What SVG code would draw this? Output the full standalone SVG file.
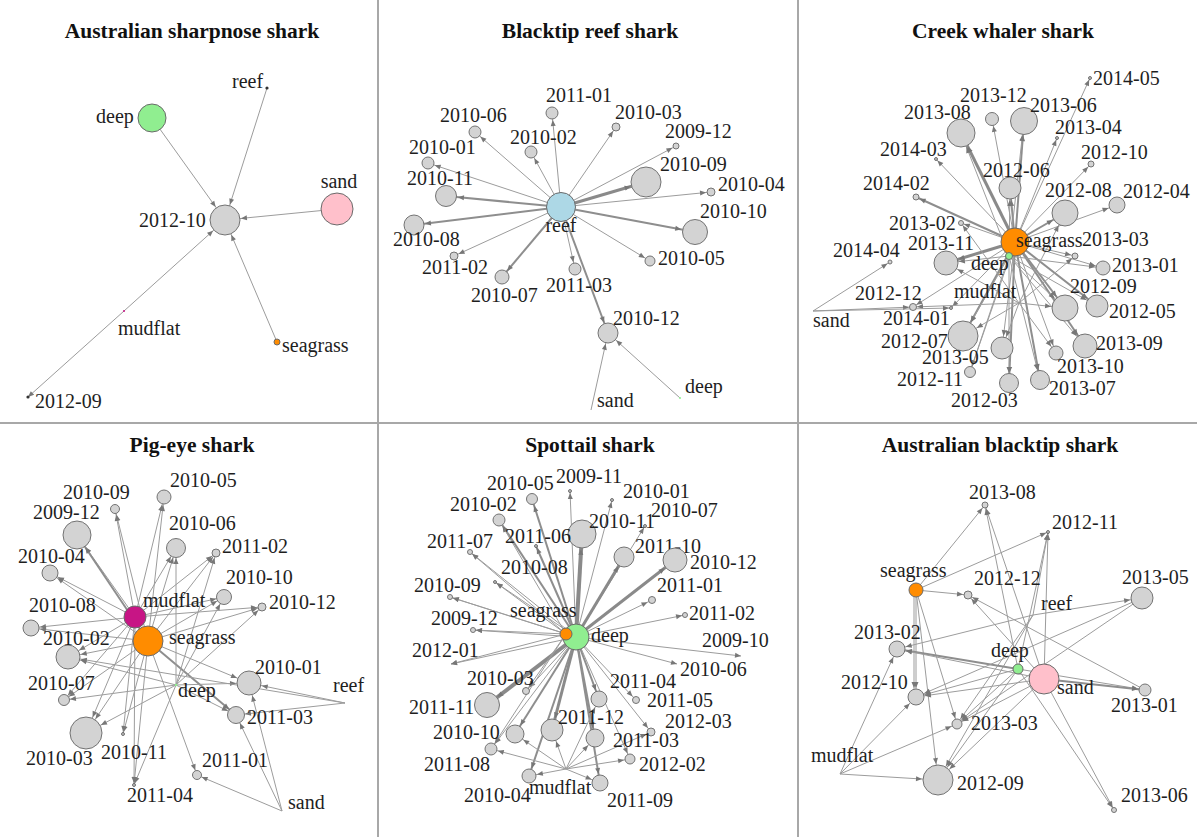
<svg xmlns="http://www.w3.org/2000/svg" width="1197" height="837" viewBox="0 0 1197 837">
<style>
.t{font-family:"Liberation Serif","Times New Roman",serif;font-size:20px;fill:#1e1e1e}
.h{font-family:"Liberation Serif","Times New Roman",serif;font-size:21.5px;font-weight:bold;fill:#111;text-anchor:middle}
.n{fill:#d3d3d3;stroke:#737373;stroke-width:1}
.s{fill:#bdbdbd;stroke:#555;stroke-width:0.8}
.dp{fill:#90ee90;stroke:#6a6a6a;stroke-width:1}
.sd{fill:#ffc0cb;stroke:#6a6a6a;stroke-width:1}
.rf{fill:#add8e6;stroke:#6a6a6a;stroke-width:1}
.sg{fill:#ff8c00;stroke:#6a6a6a;stroke-width:1}
.mf{fill:#c71585;stroke:#6a6a6a;stroke-width:1}
.e line{stroke:#9c9c9c;stroke-width:1;fill:none}
.e line.b{stroke-width:2;stroke:#8e8e8e}
.e line.c{stroke-width:3;stroke:#8a8a8a}
.e line.d{stroke-width:4;stroke:#8a8a8a}
.dv{stroke:#a8a8a8;stroke-width:2}
</style>
<defs>
<marker id="a0" markerUnits="userSpaceOnUse" orient="auto" refX="0" refY="0" overflow="visible"><path d="M0,0L-6,-2.5L-6,2.5Z" fill="#777"/></marker>
<marker id="a2" markerUnits="userSpaceOnUse" orient="auto" refX="2" refY="0" overflow="visible"><path d="M0,0L-6,-2.5L-6,2.5Z" fill="#777"/></marker>
<marker id="a3" markerUnits="userSpaceOnUse" orient="auto" refX="3" refY="0" overflow="visible"><path d="M0,0L-6,-2.5L-6,2.5Z" fill="#777"/></marker>
<marker id="a4" markerUnits="userSpaceOnUse" orient="auto" refX="4" refY="0" overflow="visible"><path d="M0,0L-6,-2.5L-6,2.5Z" fill="#777"/></marker>
<marker id="a5" markerUnits="userSpaceOnUse" orient="auto" refX="5" refY="0" overflow="visible"><path d="M0,0L-6,-2.5L-6,2.5Z" fill="#777"/></marker>
<marker id="a6" markerUnits="userSpaceOnUse" orient="auto" refX="6" refY="0" overflow="visible"><path d="M0,0L-6,-2.5L-6,2.5Z" fill="#777"/></marker>
<marker id="a7" markerUnits="userSpaceOnUse" orient="auto" refX="7" refY="0" overflow="visible"><path d="M0,0L-6,-2.5L-6,2.5Z" fill="#777"/></marker>
<marker id="a8" markerUnits="userSpaceOnUse" orient="auto" refX="8" refY="0" overflow="visible"><path d="M0,0L-6,-2.5L-6,2.5Z" fill="#777"/></marker>
<marker id="a9" markerUnits="userSpaceOnUse" orient="auto" refX="9" refY="0" overflow="visible"><path d="M0,0L-6,-2.5L-6,2.5Z" fill="#777"/></marker>
<marker id="a10" markerUnits="userSpaceOnUse" orient="auto" refX="10" refY="0" overflow="visible"><path d="M0,0L-6,-2.5L-6,2.5Z" fill="#777"/></marker>
<marker id="a11" markerUnits="userSpaceOnUse" orient="auto" refX="11" refY="0" overflow="visible"><path d="M0,0L-6,-2.5L-6,2.5Z" fill="#777"/></marker>
<marker id="a12" markerUnits="userSpaceOnUse" orient="auto" refX="12" refY="0" overflow="visible"><path d="M0,0L-6,-2.5L-6,2.5Z" fill="#777"/></marker>
<marker id="a13" markerUnits="userSpaceOnUse" orient="auto" refX="13" refY="0" overflow="visible"><path d="M0,0L-6,-2.5L-6,2.5Z" fill="#777"/></marker>
<marker id="a14" markerUnits="userSpaceOnUse" orient="auto" refX="14" refY="0" overflow="visible"><path d="M0,0L-6,-2.5L-6,2.5Z" fill="#777"/></marker>
<marker id="a15" markerUnits="userSpaceOnUse" orient="auto" refX="15" refY="0" overflow="visible"><path d="M0,0L-6,-2.5L-6,2.5Z" fill="#777"/></marker>
<marker id="a16" markerUnits="userSpaceOnUse" orient="auto" refX="16" refY="0" overflow="visible"><path d="M0,0L-6,-2.5L-6,2.5Z" fill="#777"/></marker>
<marker id="a17" markerUnits="userSpaceOnUse" orient="auto" refX="17" refY="0" overflow="visible"><path d="M0,0L-6,-2.5L-6,2.5Z" fill="#777"/></marker>
</defs>
<rect width="1197" height="837" fill="#fff"/>
<g id="dividers">
<line class="dv" x1="378" y1="0" x2="378" y2="837"/>
<line class="dv" x1="798" y1="0" x2="798" y2="837"/>
<line class="dv" x1="0" y1="423" x2="1197" y2="423"/>
</g>
<g id="titles">
<text class="h" x="192" y="38">Australian sharpnose shark</text>
<text class="h" x="590" y="38">Blacktip reef shark</text>
<text class="h" x="1003" y="38">Creek whaler shark</text>
<text class="h" x="192" y="452">Pig-eye shark</text>
<text class="h" x="590" y="452">Spottail shark</text>
<text class="h" x="1000" y="452">Australian blacktip shark</text>
</g>

<!-- Panel 1 edges -->
<g id="edges-p1" class="e">
<line x1="152" y1="118" x2="225" y2="220" marker-end="url(#a16)"/>
<line x1="267" y1="88" x2="225" y2="220" marker-end="url(#a16)"/>
<line x1="337" y1="209" x2="225" y2="220" marker-end="url(#a16)"/>
<line x1="277" y1="342" x2="225" y2="220" marker-end="url(#a16)"/>
<line x1="124" y1="311" x2="225" y2="220" marker-end="url(#a16)"/>
<line x1="124" y1="311" x2="28" y2="397" marker-end="url(#a0)"/>
</g>
<g id="p1-deep"><circle class="dp" cx="152" cy="118" r="14"/><text class="t" x="96" y="123">deep</text></g>
<g id="p1-reef"><circle cx="267" cy="88" r="1.6" fill="#333"/><text class="t" x="232" y="88">reef</text></g>
<g id="p1-sand"><circle class="sd" cx="337" cy="209" r="16"/><text class="t" x="339" y="188" text-anchor="middle">sand</text></g>
<g id="p1-2012-10"><circle class="n" cx="225" cy="220" r="15"/><text class="t" x="139" y="227">2012-10</text></g>
<g id="p1-seagrass"><circle class="sg" cx="277" cy="342" r="3" stroke-width="0.6"/><text class="t" x="282" y="352">seagrass</text></g>
<g id="p1-mudflat"><circle cx="124" cy="311" r="1" fill="#c71585"/><text class="t" x="118" y="335">mudflat</text></g>
<g id="p1-2012-09"><circle cx="28" cy="397" r="1.6" fill="#333"/><text class="t" x="35" y="408">2012-09</text></g>

<!-- Panel 2 edges -->
<g id="edges-p2" class="e">
<line x1="561" y1="207" x2="552" y2="113" marker-end="url(#a7)"/>
<line x1="561" y1="207" x2="616" y2="127" marker-end="url(#a5)"/>
<line x1="561" y1="207" x2="475" y2="132" marker-end="url(#a7)"/>
<line x1="561" y1="207" x2="531" y2="152" marker-end="url(#a7)"/>
<line x1="561" y1="207" x2="676" y2="146" marker-end="url(#a4)"/>
<line x1="561" y1="207" x2="428" y2="163" marker-end="url(#a7)"/>
<line class="c" x1="561" y1="207" x2="646" y2="182" marker-end="url(#a16)"/>
<line class="b" x1="561" y1="207" x2="446" y2="196" marker-end="url(#a12)"/>
<line x1="561" y1="207" x2="711" y2="192" marker-end="url(#a5)"/>
<line class="b" x1="561" y1="207" x2="414" y2="225" marker-end="url(#a11)"/>
<line class="b" x1="561" y1="207" x2="695" y2="232" marker-end="url(#a14)"/>
<line x1="561" y1="207" x2="454" y2="256" marker-end="url(#a5)"/>
<line x1="561" y1="207" x2="650" y2="261" marker-end="url(#a6)"/>
<line x1="561" y1="207" x2="575" y2="269" marker-end="url(#a7)"/>
<line class="b" x1="561" y1="207" x2="502" y2="277" marker-end="url(#a8)"/>
<line class="b" x1="561" y1="207" x2="608" y2="333" marker-end="url(#a11)"/>
<line x1="591" y1="410" x2="608" y2="333" marker-end="url(#a11)"/>
<line x1="680" y1="398" x2="608" y2="333" marker-end="url(#a11)"/>
</g>
<g id="p2-reef"><circle class="rf" cx="561" cy="207" r="14.5"/><text class="t" x="561" y="232" text-anchor="middle">reef</text></g>
<g id="p2-2011-01"><circle class="n" cx="552" cy="113" r="6"/><text class="t" x="546" y="102">2011-01</text></g>
<g id="p2-2010-03"><circle class="n" cx="616" cy="127" r="4"/><text class="t" x="615" y="119">2010-03</text></g>
<g id="p2-2010-06"><circle class="n" cx="475" cy="132" r="6"/><text class="t" x="440" y="122">2010-06</text></g>
<g id="p2-2010-02"><circle class="n" cx="531" cy="152" r="6"/><text class="t" x="510" y="144">2010-02</text></g>
<g id="p2-2009-12"><circle class="n" cx="676" cy="146" r="3"/><text class="t" x="665" y="138">2009-12</text></g>
<g id="p2-2010-01"><circle class="n" cx="428" cy="163" r="6"/><text class="t" x="409" y="154">2010-01</text></g>
<g id="p2-2010-09"><circle class="n" cx="646" cy="182" r="15"/><text class="t" x="660" y="171">2010-09</text></g>
<g id="p2-2010-11"><circle class="n" cx="446" cy="196" r="10.5"/><text class="t" x="407" y="185">2010-11</text></g>
<g id="p2-2010-04"><circle class="n" cx="711" cy="192" r="4"/><text class="t" x="718" y="191">2010-04</text></g>
<g id="p2-2010-08"><circle class="n" cx="414" cy="225" r="10"/><text class="t" x="393" y="246">2010-08</text></g>
<g id="p2-2010-10"><circle class="n" cx="695" cy="232" r="12.5"/><text class="t" x="700" y="218">2010-10</text></g>
<g id="p2-2011-02"><circle class="n" cx="454" cy="256" r="4"/><text class="t" x="422" y="274">2011-02</text></g>
<g id="p2-2010-05"><circle class="n" cx="650" cy="261" r="5"/><text class="t" x="658" y="265">2010-05</text></g>
<g id="p2-2011-03"><circle class="n" cx="575" cy="269" r="6"/><text class="t" x="546" y="292">2011-03</text></g>
<g id="p2-2010-07"><circle class="n" cx="502" cy="277" r="7"/><text class="t" x="471" y="302">2010-07</text></g>
<g id="p2-2010-12"><circle class="n" cx="608" cy="333" r="10"/><text class="t" x="613" y="325">2010-12</text></g>
<g id="p2-sand"><text class="t" x="597" y="407">sand</text></g>
<g id="p2-deep"><circle cx="680" cy="398" r="1" fill="#90ee90"/><text class="t" x="685" y="393">deep</text></g>

<!-- Panel 3 edges -->
<g id="edges-p3" class="e">
<line x1="1015" y1="242" x2="1090" y2="78" marker-end="url(#a2)"/>
<line x1="1015" y1="242" x2="992" y2="119" marker-end="url(#a7)"/>
<line class="b" x1="1015" y1="242" x2="1024" y2="121" marker-end="url(#a14)"/>
<line class="c" x1="1015" y1="242" x2="961" y2="133" marker-end="url(#a15)"/>
<line x1="1015" y1="242" x2="1057" y2="138" marker-end="url(#a2)"/>
<line x1="1015" y1="242" x2="936" y2="159" marker-end="url(#a2)"/>
<line x1="1015" y1="242" x2="1091" y2="164" marker-end="url(#a4)"/>
<line class="b" x1="1015" y1="242" x2="1010" y2="188" marker-end="url(#a12)"/>
<line class="b" x1="1015" y1="242" x2="916" y2="197" marker-end="url(#a4)"/>
<line class="b" x1="1015" y1="242" x2="1065" y2="213" marker-end="url(#a14)"/>
<line x1="1015" y1="242" x2="1117" y2="205" marker-end="url(#a9)"/>
<line x1="1015" y1="242" x2="961" y2="223" marker-end="url(#a3)"/>
<line x1="1015" y1="242" x2="1075" y2="256" marker-end="url(#a4)"/>
<line class="c" x1="1015" y1="242" x2="946" y2="263" marker-end="url(#a13)"/>
<line x1="1015" y1="242" x2="1103" y2="268" marker-end="url(#a8)"/>
<line class="b" x1="1015" y1="242" x2="1065" y2="308" marker-end="url(#a14)"/>
<line class="b" x1="1015" y1="242" x2="1097" y2="306" marker-end="url(#a12)"/>
<line class="b" x1="1015" y1="242" x2="963" y2="336" marker-end="url(#a16)"/>
<line x1="1015" y1="242" x2="1002" y2="348" marker-end="url(#a12)"/>
<line class="b" x1="1015" y1="242" x2="1085" y2="346" marker-end="url(#a13)"/>
<line x1="1015" y1="242" x2="1056" y2="353" marker-end="url(#a8)"/>
<line x1="1015" y1="242" x2="970" y2="372" marker-end="url(#a6)"/>
<line class="b" x1="1015" y1="242" x2="1009" y2="383" marker-end="url(#a10)"/>
<line class="b" x1="1015" y1="242" x2="1040" y2="380" marker-end="url(#a10)"/>
<line x1="1015" y1="242" x2="951" y2="308" marker-end="url(#a2)"/>
<line x1="1015" y1="242" x2="913" y2="307" marker-end="url(#a4)"/>
<line x1="1009" y1="256" x2="961" y2="133" marker-end="url(#a15)"/>
<line x1="1009" y1="256" x2="1010" y2="188" marker-end="url(#a12)"/>
<line x1="1009" y1="256" x2="946" y2="263" marker-end="url(#a13)"/>
<line x1="1009" y1="256" x2="1065" y2="308" marker-end="url(#a14)"/>
<line x1="1009" y1="256" x2="1085" y2="346" marker-end="url(#a13)"/>
<line x1="1009" y1="256" x2="1009" y2="383" marker-end="url(#a10)"/>
<line x1="1009" y1="256" x2="1040" y2="380" marker-end="url(#a10)"/>
<line x1="1009" y1="256" x2="963" y2="336" marker-end="url(#a16)"/>
<line x1="1009" y1="256" x2="1097" y2="306" marker-end="url(#a12)"/>
<line x1="1009" y1="256" x2="1024" y2="121" marker-end="url(#a14)"/>
<line x1="1009" y1="256" x2="1103" y2="268" marker-end="url(#a8)"/>
<line x1="1009" y1="256" x2="970" y2="372" marker-end="url(#a6)"/>
<line x1="1019" y1="303" x2="946" y2="263" marker-end="url(#a13)"/>
<line x1="1019" y1="303" x2="1065" y2="308" marker-end="url(#a14)"/>
<line x1="1019" y1="303" x2="913" y2="307" marker-end="url(#a4)"/>
<line x1="1019" y1="303" x2="961" y2="223" marker-end="url(#a3)"/>
<line x1="1019" y1="303" x2="963" y2="336" marker-end="url(#a16)"/>
<line x1="1019" y1="303" x2="1002" y2="348" marker-end="url(#a12)"/>
<line x1="1019" y1="303" x2="1065" y2="213" marker-end="url(#a14)"/>
<line x1="1019" y1="303" x2="1075" y2="256" marker-end="url(#a4)"/>
<line x1="1019" y1="303" x2="1056" y2="353" marker-end="url(#a8)"/>
<line x1="813" y1="311" x2="890" y2="262" marker-end="url(#a3)"/>
<line x1="813" y1="311" x2="913" y2="307" marker-end="url(#a4)"/>
<line x1="813" y1="311" x2="951" y2="308" marker-end="url(#a2)"/>
</g>
<g id="p3-2014-05"><circle class="s" cx="1090" cy="78" r="1.5"/><text class="t" x="1093" y="85">2014-05</text></g>
<g id="p3-2013-12"><circle class="n" cx="992" cy="119" r="6.5"/><text class="t" x="960" y="102">2013-12</text></g>
<g id="p3-2013-06"><circle class="n" cx="1024" cy="121" r="13.5"/><text class="t" x="1030" y="112">2013-06</text></g>
<g id="p3-2013-08"><circle class="n" cx="961" cy="133" r="14"/><text class="t" x="904" y="119">2013-08</text></g>
<g id="p3-2013-04"><circle class="s" cx="1057" cy="138" r="1.5"/><text class="t" x="1055" y="134">2013-04</text></g>
<g id="p3-2014-03"><circle class="s" cx="936" cy="159" r="1.5"/><text class="t" x="880" y="156">2014-03</text></g>
<g id="p3-2012-10"><circle class="n" cx="1091" cy="164" r="3"/><text class="t" x="1081" y="159">2012-10</text></g>
<g id="p3-2012-06"><circle class="n" cx="1010" cy="188" r="11"/><text class="t" x="983" y="177">2012-06</text></g>
<g id="p3-2014-02"><circle class="n" cx="916" cy="197" r="3"/><text class="t" x="863" y="190">2014-02</text></g>
<g id="p3-2012-08"><circle class="n" cx="1065" cy="213" r="13"/><text class="t" x="1045" y="197">2012-08</text></g>
<g id="p3-2012-04"><circle class="n" cx="1117" cy="205" r="8"/><text class="t" x="1123" y="198">2012-04</text></g>
<g id="p3-2013-02"><circle class="n" cx="961" cy="223" r="2.5"/><text class="t" x="889" y="230">2013-02</text></g>
<g id="p3-2013-03"><circle class="n" cx="1075" cy="256" r="3"/><text class="t" x="1082" y="246">2013-03</text></g>
<g id="p3-2013-11"><circle class="n" cx="946" cy="263" r="12"/><text class="t" x="908" y="250">2013-11</text></g>
<g id="p3-2014-04"><circle class="n" cx="890" cy="262" r="2"/><text class="t" x="833" y="257">2014-04</text></g>
<g id="p3-2013-01"><circle class="n" cx="1103" cy="268" r="7"/><text class="t" x="1112" y="272">2013-01</text></g>
<g id="p3-2012-12"><circle class="n" cx="913" cy="307" r="3.5"/><text class="t" x="855" y="300">2012-12</text></g>
<g id="p3-2014-01"><circle class="s" cx="951" cy="308" r="1.5"/><text class="t" x="883" y="325">2014-01</text></g>
<g id="p3-2012-09"><circle class="n" cx="1065" cy="308" r="13"/><text class="t" x="1070" y="293">2012-09</text></g>
<g id="p3-2012-05"><circle class="n" cx="1097" cy="306" r="11"/><text class="t" x="1109" y="318">2012-05</text></g>
<g id="p3-2012-07"><circle class="n" cx="963" cy="336" r="15"/><text class="t" x="881" y="348">2012-07</text></g>
<g id="p3-2013-05"><circle class="n" cx="1002" cy="348" r="11"/><text class="t" x="922" y="364">2013-05</text></g>
<g id="p3-2013-09"><circle class="n" cx="1085" cy="346" r="12"/><text class="t" x="1096" y="350">2013-09</text></g>
<g id="p3-2013-10"><circle class="n" cx="1056" cy="353" r="7"/><text class="t" x="1057" y="373">2013-10</text></g>
<g id="p3-2012-11"><circle class="n" cx="970" cy="372" r="5.5"/><text class="t" x="897" y="386">2012-11</text></g>
<g id="p3-2012-03"><circle class="n" cx="1009" cy="383" r="9.5"/><text class="t" x="951" y="407">2012-03</text></g>
<g id="p3-2013-07"><circle class="n" cx="1040" cy="380" r="9.5"/><text class="t" x="1049" y="395">2013-07</text></g>
<g id="p3-mudflat"><text class="t" x="954" y="298">mudflat</text></g>
<g id="p3-sand"><text class="t" x="813" y="327">sand</text></g>
<g id="p3-seagrass"><circle class="sg" cx="1015" cy="242" r="14"/><text class="t" x="1016" y="247">seagrass</text></g>
<g id="p3-deep"><circle class="dp" cx="1009" cy="256" r="3.5"/><text class="t" x="971" y="270">deep</text></g>

<!-- Panel 4 edges -->
<g id="edges-p4" class="e">
<line x1="135" y1="617" x2="115" y2="509" marker-end="url(#a6)"/>
<line x1="135" y1="617" x2="164" y2="497" marker-end="url(#a8)"/>
<line x1="135" y1="617" x2="77" y2="535" marker-end="url(#a15)"/>
<line x1="135" y1="617" x2="176" y2="548" marker-end="url(#a10)"/>
<line x1="135" y1="617" x2="216" y2="553" marker-end="url(#a5)"/>
<line x1="135" y1="617" x2="50" y2="573" marker-end="url(#a9)"/>
<line x1="135" y1="617" x2="224" y2="597" marker-end="url(#a8)"/>
<line x1="135" y1="617" x2="31" y2="628" marker-end="url(#a9)"/>
<line x1="135" y1="617" x2="68" y2="657" marker-end="url(#a13)"/>
<line x1="135" y1="617" x2="64" y2="700" marker-end="url(#a6)"/>
<line x1="135" y1="617" x2="86" y2="733" marker-end="url(#a17)"/>
<line x1="135" y1="617" x2="123" y2="734" marker-end="url(#a2)"/>
<line x1="135" y1="617" x2="134" y2="785" marker-end="url(#a2)"/>
<line x1="135" y1="617" x2="262" y2="607" marker-end="url(#a5)"/>
<line x1="148" y1="641" x2="115" y2="509" marker-end="url(#a6)"/>
<line x1="148" y1="641" x2="164" y2="497" marker-end="url(#a8)"/>
<line class="b" x1="148" y1="641" x2="77" y2="535" marker-end="url(#a15)"/>
<line x1="148" y1="641" x2="176" y2="548" marker-end="url(#a10)"/>
<line x1="148" y1="641" x2="216" y2="553" marker-end="url(#a5)"/>
<line x1="148" y1="641" x2="50" y2="573" marker-end="url(#a9)"/>
<line x1="148" y1="641" x2="224" y2="597" marker-end="url(#a8)"/>
<line x1="148" y1="641" x2="262" y2="607" marker-end="url(#a5)"/>
<line x1="148" y1="641" x2="31" y2="628" marker-end="url(#a9)"/>
<line x1="148" y1="641" x2="68" y2="657" marker-end="url(#a13)"/>
<line x1="148" y1="641" x2="249" y2="683" marker-end="url(#a13)"/>
<line x1="148" y1="641" x2="64" y2="700" marker-end="url(#a6)"/>
<line class="b" x1="148" y1="641" x2="236" y2="715" marker-end="url(#a9)"/>
<line x1="148" y1="641" x2="86" y2="733" marker-end="url(#a17)"/>
<line x1="148" y1="641" x2="123" y2="734" marker-end="url(#a2)"/>
<line x1="148" y1="641" x2="197" y2="775" marker-end="url(#a5)"/>
<line x1="148" y1="641" x2="134" y2="785" marker-end="url(#a2)"/>
<line x1="176" y1="685" x2="68" y2="657" marker-end="url(#a13)"/>
<line x1="176" y1="685" x2="64" y2="700" marker-end="url(#a6)"/>
<line x1="176" y1="685" x2="216" y2="553" marker-end="url(#a5)"/>
<line x1="176" y1="685" x2="176" y2="548" marker-end="url(#a10)"/>
<line x1="176" y1="685" x2="224" y2="597" marker-end="url(#a8)"/>
<line x1="176" y1="685" x2="262" y2="607" marker-end="url(#a5)"/>
<line x1="176" y1="685" x2="249" y2="683" marker-end="url(#a13)"/>
<line x1="176" y1="685" x2="236" y2="715" marker-end="url(#a9)"/>
<line x1="176" y1="685" x2="86" y2="733" marker-end="url(#a17)"/>
<line x1="176" y1="685" x2="134" y2="785" marker-end="url(#a2)"/>
<line x1="345" y1="703" x2="249" y2="683" marker-end="url(#a13)"/>
<line x1="345" y1="703" x2="236" y2="715" marker-end="url(#a9)"/>
<line x1="345" y1="703" x2="68" y2="657" marker-end="url(#a13)"/>
<line x1="282" y1="811" x2="197" y2="775" marker-end="url(#a5)"/>
<line x1="282" y1="811" x2="236" y2="715" marker-end="url(#a9)"/>
<line x1="282" y1="811" x2="249" y2="683" marker-end="url(#a13)"/>
</g>
<g id="p4-2010-09"><circle class="n" cx="115" cy="509" r="4.5"/><text class="t" x="63" y="499">2010-09</text></g>
<g id="p4-2010-05"><circle class="n" cx="164" cy="497" r="7"/><text class="t" x="170" y="487">2010-05</text></g>
<g id="p4-2009-12"><circle class="n" cx="77" cy="535" r="14"/><text class="t" x="33" y="519">2009-12</text></g>
<g id="p4-2010-06"><circle class="n" cx="176" cy="548" r="9.5"/><text class="t" x="169" y="530">2010-06</text></g>
<g id="p4-2011-02"><circle class="n" cx="216" cy="553" r="4"/><text class="t" x="222" y="553">2011-02</text></g>
<g id="p4-2010-04"><circle class="n" cx="50" cy="573" r="8"/><text class="t" x="18" y="563">2010-04</text></g>
<g id="p4-2010-10"><circle class="n" cx="224" cy="597" r="7.5"/><text class="t" x="226" y="584">2010-10</text></g>
<g id="p4-2010-12"><circle class="n" cx="262" cy="607" r="4"/><text class="t" x="269" y="609">2010-12</text></g>
<g id="p4-2010-08"><circle class="n" cx="31" cy="628" r="8"/><text class="t" x="29" y="612">2010-08</text></g>
<g id="p4-2010-02"><circle class="n" cx="68" cy="657" r="12"/><text class="t" x="43" y="645">2010-02</text></g>
<g id="p4-2010-01"><circle class="n" cx="249" cy="683" r="12"/><text class="t" x="255" y="674">2010-01</text></g>
<g id="p4-2010-07"><circle class="n" cx="64" cy="700" r="5.5"/><text class="t" x="28" y="690">2010-07</text></g>
<g id="p4-2011-03"><circle class="n" cx="236" cy="715" r="8.5"/><text class="t" x="247" y="724">2011-03</text></g>
<g id="p4-2010-03"><circle class="n" cx="86" cy="733" r="16"/><text class="t" x="26" y="765">2010-03</text></g>
<g id="p4-2010-11"><circle class="s" cx="123" cy="734" r="1.5"/><text class="t" x="101" y="759">2010-11</text></g>
<g id="p4-2011-01"><circle class="n" cx="197" cy="775" r="4.5"/><text class="t" x="202" y="767">2011-01</text></g>
<g id="p4-2011-04"><circle class="s" cx="134" cy="785" r="1.5"/><text class="t" x="127" y="802">2011-04</text></g>
<g id="p4-reef"><text class="t" x="333" y="692">reef</text></g>
<g id="p4-sand"><text class="t" x="288" y="809">sand</text></g>
<g id="p4-deep"><circle cx="176" cy="685" r="1.2" fill="#90ee90"/><text class="t" x="178" y="697">deep</text></g>
<g id="p4-mudflat"><circle class="mf" cx="135" cy="617" r="11"/><text class="t" x="143" y="607">mudflat</text></g>
<g id="p4-seagrass"><circle class="sg" cx="148" cy="641" r="15"/><text class="t" x="169" y="644">seagrass</text></g>

<!-- Panel 5 edges -->
<g id="edges-p5" class="e">
<line class="b" x1="576" y1="637" x2="532" y2="499" marker-end="url(#a7)"/>
<line x1="576" y1="637" x2="570" y2="491" marker-end="url(#a2)"/>
<line x1="576" y1="637" x2="612" y2="500" marker-end="url(#a2)"/>
<line class="b" x1="576" y1="637" x2="499" y2="520" marker-end="url(#a7)"/>
<line class="d" x1="576" y1="637" x2="582" y2="534" marker-end="url(#a15)"/>
<line x1="576" y1="637" x2="645" y2="526" marker-end="url(#a2)"/>
<line x1="576" y1="637" x2="470" y2="552" marker-end="url(#a3)"/>
<line class="b" x1="576" y1="637" x2="536" y2="546" marker-end="url(#a2)"/>
<line class="c" x1="576" y1="637" x2="624" y2="557" marker-end="url(#a11)"/>
<line class="c" x1="576" y1="637" x2="675" y2="560" marker-end="url(#a13)"/>
<line x1="576" y1="637" x2="495" y2="582" marker-end="url(#a2)"/>
<line x1="576" y1="637" x2="652" y2="600" marker-end="url(#a5)"/>
<line x1="576" y1="637" x2="450" y2="597" marker-end="url(#a3)"/>
<line x1="576" y1="637" x2="685" y2="615" marker-end="url(#a3)"/>
<line x1="576" y1="637" x2="473" y2="630" marker-end="url(#a3)"/>
<line x1="576" y1="637" x2="741" y2="656" marker-end="url(#a0)"/>
<line x1="576" y1="637" x2="451" y2="664" marker-end="url(#a0)"/>
<line x1="576" y1="637" x2="677" y2="664" marker-end="url(#a0)"/>
<line x1="576" y1="637" x2="526" y2="691" marker-end="url(#a5)"/>
<line class="b" x1="576" y1="637" x2="599" y2="699" marker-end="url(#a9)"/>
<line x1="576" y1="637" x2="636" y2="700" marker-end="url(#a5)"/>
<line class="d" x1="576" y1="637" x2="487" y2="705" marker-end="url(#a13)"/>
<line x1="576" y1="637" x2="651" y2="732" marker-end="url(#a5)"/>
<line class="c" x1="576" y1="637" x2="552" y2="730" marker-end="url(#a12)"/>
<line class="b" x1="576" y1="637" x2="515" y2="734" marker-end="url(#a10)"/>
<line class="b" x1="576" y1="637" x2="595" y2="738" marker-end="url(#a10)"/>
<line x1="576" y1="637" x2="491" y2="749" marker-end="url(#a7)"/>
<line x1="576" y1="637" x2="630" y2="759" marker-end="url(#a6)"/>
<line class="b" x1="576" y1="637" x2="529" y2="776" marker-end="url(#a8)"/>
<line class="b" x1="576" y1="637" x2="600" y2="783" marker-end="url(#a9)"/>
<line x1="566" y1="634" x2="450" y2="597" marker-end="url(#a3)"/>
<line x1="566" y1="634" x2="473" y2="630" marker-end="url(#a3)"/>
<line x1="566" y1="634" x2="451" y2="664" marker-end="url(#a0)"/>
<line x1="566" y1="634" x2="470" y2="552" marker-end="url(#a3)"/>
<line x1="566" y1="634" x2="495" y2="582" marker-end="url(#a2)"/>
<line x1="566" y1="634" x2="526" y2="691" marker-end="url(#a5)"/>
<line x1="566" y1="634" x2="491" y2="749" marker-end="url(#a7)"/>
<line x1="566" y1="634" x2="499" y2="520" marker-end="url(#a7)"/>
<line x1="566" y1="769" x2="529" y2="776" marker-end="url(#a8)"/>
<line x1="566" y1="769" x2="600" y2="783" marker-end="url(#a9)"/>
<line x1="566" y1="769" x2="491" y2="749" marker-end="url(#a7)"/>
<line x1="566" y1="769" x2="630" y2="759" marker-end="url(#a6)"/>
<line x1="566" y1="769" x2="552" y2="730" marker-end="url(#a12)"/>
<line x1="566" y1="769" x2="595" y2="738" marker-end="url(#a10)"/>
<line x1="566" y1="769" x2="515" y2="734" marker-end="url(#a10)"/>
<line x1="566" y1="769" x2="599" y2="699" marker-end="url(#a9)"/>
<line x1="566" y1="769" x2="651" y2="732" marker-end="url(#a5)"/>
</g>
<g id="p5-2010-05"><circle class="n" cx="532" cy="499" r="5.5"/><text class="t" x="487" y="490">2010-05</text></g>
<g id="p5-2009-11"><circle class="s" cx="570" cy="491" r="1.5"/><text class="t" x="556" y="483">2009-11</text></g>
<g id="p5-2010-01"><circle class="s" cx="612" cy="500" r="1.5"/><text class="t" x="623" y="498">2010-01</text></g>
<g id="p5-2010-02"><circle class="n" cx="499" cy="520" r="6"/><text class="t" x="450" y="511">2010-02</text></g>
<g id="p5-2010-11"><circle class="n" cx="582" cy="534" r="14"/><text class="t" x="589" y="528">2010-11</text></g>
<g id="p5-2010-07"><circle class="s" cx="645" cy="526" r="1.5"/><text class="t" x="651" y="517">2010-07</text></g>
<g id="p5-2011-07"><circle class="n" cx="470" cy="552" r="2.5"/><text class="t" x="427" y="548">2011-07</text></g>
<g id="p5-2011-06"><circle class="s" cx="536" cy="546" r="1.5"/><text class="t" x="505" y="543">2011-06</text></g>
<g id="p5-2011-10"><circle class="n" cx="624" cy="557" r="10"/><text class="t" x="635" y="553">2011-10</text></g>
<g id="p5-2010-12"><circle class="n" cx="675" cy="560" r="12"/><text class="t" x="690" y="569">2010-12</text></g>
<g id="p5-2010-08"><circle class="s" cx="495" cy="582" r="1.5"/><text class="t" x="501" y="574">2010-08</text></g>
<g id="p5-2011-01"><circle class="n" cx="652" cy="600" r="3.5"/><text class="t" x="657" y="592">2011-01</text></g>
<g id="p5-2010-09"><circle class="n" cx="450" cy="597" r="2.5"/><text class="t" x="414" y="592">2010-09</text></g>
<g id="p5-2011-02"><circle class="n" cx="685" cy="615" r="2.5"/><text class="t" x="689" y="620">2011-02</text></g>
<g id="p5-2009-12"><circle class="n" cx="473" cy="630" r="2.5"/><text class="t" x="431" y="625">2009-12</text></g>
<g id="p5-2009-10"><text class="t" x="702" y="647">2009-10</text></g>
<g id="p5-2012-01"><text class="t" x="412" y="657">2012-01</text></g>
<g id="p5-2010-06"><text class="t" x="680" y="676">2010-06</text></g>
<g id="p5-2010-03"><circle class="n" cx="526" cy="691" r="3.5"/><text class="t" x="467" y="685">2010-03</text></g>
<g id="p5-2011-04"><circle class="n" cx="599" cy="699" r="8"/><text class="t" x="610" y="688">2011-04</text></g>
<g id="p5-2011-05"><circle class="n" cx="636" cy="700" r="3.5"/><text class="t" x="647" y="707">2011-05</text></g>
<g id="p5-2011-11"><circle class="n" cx="487" cy="705" r="12.5"/><text class="t" x="409" y="714">2011-11</text></g>
<g id="p5-2012-03"><circle class="n" cx="651" cy="732" r="4"/><text class="t" x="665" y="728">2012-03</text></g>
<g id="p5-2011-12"><circle class="n" cx="552" cy="730" r="11"/><text class="t" x="558" y="724">2011-12</text></g>
<g id="p5-2010-10"><circle class="n" cx="515" cy="734" r="9"/><text class="t" x="433" y="739">2010-10</text></g>
<g id="p5-2011-03"><circle class="n" cx="595" cy="738" r="9"/><text class="t" x="613" y="747">2011-03</text></g>
<g id="p5-2011-08"><circle class="n" cx="491" cy="749" r="6"/><text class="t" x="424" y="771">2011-08</text></g>
<g id="p5-2012-02"><circle class="n" cx="630" cy="759" r="5"/><text class="t" x="639" y="771">2012-02</text></g>
<g id="p5-2010-04"><circle class="n" cx="529" cy="776" r="7"/><text class="t" x="464" y="802">2010-04</text></g>
<g id="p5-2011-09"><circle class="n" cx="600" cy="783" r="8"/><text class="t" x="607" y="807">2011-09</text></g>
<g id="p5-mudflat"><text class="t" x="529" y="794">mudflat</text></g>
<g id="p5-deep"><circle class="dp" cx="576" cy="637" r="13"/><text class="t" x="591" y="642">deep</text></g>
<g id="p5-seagrass"><circle class="sg" cx="566" cy="634" r="6"/><text class="t" x="510" y="617">seagrass</text></g>

<!-- Panel 6 edges -->
<g id="edges-p6" class="e">
<line x1="916" y1="590" x2="985" y2="505" marker-end="url(#a4)"/>
<line x1="916" y1="590" x2="1048" y2="532" marker-end="url(#a2)"/>
<line x1="916" y1="590" x2="968" y2="595" marker-end="url(#a5)"/>
<line x1="916" y1="590" x2="916" y2="697" marker-end="url(#a9)"/>
<line x1="914" y1="590" x2="914" y2="697" marker-end="url(#a9)"/>
<line x1="916" y1="590" x2="957" y2="724" marker-end="url(#a6)"/>
<line x1="916" y1="590" x2="938" y2="780" marker-end="url(#a16)"/>
<line x1="1033" y1="615" x2="897" y2="649" marker-end="url(#a9)"/>
<line x1="1033" y1="615" x2="1142" y2="598" marker-end="url(#a12)"/>
<line x1="1033" y1="615" x2="957" y2="724" marker-end="url(#a6)"/>
<line x1="1033" y1="615" x2="1048" y2="532" marker-end="url(#a2)"/>
<line x1="1033" y1="615" x2="938" y2="780" marker-end="url(#a16)"/>
<line class="b" x1="1018" y1="669" x2="897" y2="649" marker-end="url(#a9)"/>
<line x1="1018" y1="669" x2="916" y2="697" marker-end="url(#a9)"/>
<line x1="1018" y1="669" x2="1145" y2="690" marker-end="url(#a7)"/>
<line x1="1018" y1="669" x2="1048" y2="532" marker-end="url(#a2)"/>
<line x1="1018" y1="669" x2="957" y2="724" marker-end="url(#a6)"/>
<line x1="1018" y1="669" x2="938" y2="780" marker-end="url(#a16)"/>
<line x1="1018" y1="669" x2="985" y2="505" marker-end="url(#a4)"/>
<line x1="1018" y1="669" x2="1114" y2="810" marker-end="url(#a3)"/>
<line x1="1044" y1="679" x2="985" y2="505" marker-end="url(#a4)"/>
<line x1="1044" y1="679" x2="968" y2="595" marker-end="url(#a5)"/>
<line x1="1044" y1="679" x2="897" y2="649" marker-end="url(#a9)"/>
<line class="b" x1="1044" y1="679" x2="1145" y2="690" marker-end="url(#a7)"/>
<line x1="1044" y1="679" x2="1114" y2="810" marker-end="url(#a3)"/>
<line x1="1044" y1="679" x2="938" y2="780" marker-end="url(#a16)"/>
<line x1="1044" y1="679" x2="916" y2="697" marker-end="url(#a9)"/>
<line x1="1044" y1="679" x2="957" y2="724" marker-end="url(#a6)"/>
<line x1="1044" y1="679" x2="1048" y2="532" marker-end="url(#a2)"/>
<line x1="1142" y1="598" x2="916" y2="697" marker-end="url(#a9)"/>
<line x1="1142" y1="598" x2="957" y2="724" marker-end="url(#a6)"/>
<line x1="1145" y1="690" x2="968" y2="595" marker-end="url(#a5)"/>
<line x1="840" y1="774" x2="897" y2="649" marker-end="url(#a9)"/>
<line x1="840" y1="774" x2="916" y2="697" marker-end="url(#a9)"/>
<line x1="840" y1="774" x2="957" y2="724" marker-end="url(#a6)"/>
<line x1="840" y1="774" x2="938" y2="780" marker-end="url(#a16)"/>
</g>
<g id="p6-2013-08"><circle class="n" cx="985" cy="505" r="3"/><text class="t" x="969" y="499">2013-08</text></g>
<g id="p6-2012-11"><circle class="s" cx="1048" cy="532" r="1.5"/><text class="t" x="1052" y="529">2012-11</text></g>
<g id="p6-2012-12"><circle class="n" cx="968" cy="595" r="4"/><text class="t" x="974" y="585">2012-12</text></g>
<g id="p6-2013-05"><circle class="n" cx="1142" cy="598" r="11"/><text class="t" x="1122" y="584">2013-05</text></g>
<g id="p6-reef"><text class="t" x="1041" y="610">reef</text></g>
<g id="p6-2013-02"><circle class="n" cx="897" cy="649" r="8"/><text class="t" x="854" y="639">2013-02</text></g>
<g id="p6-2012-10"><circle class="n" cx="916" cy="697" r="8"/><text class="t" x="841" y="689">2012-10</text></g>
<g id="p6-2013-01"><circle class="n" cx="1145" cy="690" r="6"/><text class="t" x="1111" y="712">2013-01</text></g>
<g id="p6-2013-03"><circle class="n" cx="957" cy="724" r="5"/><text class="t" x="971" y="730">2013-03</text></g>
<g id="p6-mudflat"><text class="t" x="811" y="762">mudflat</text></g>
<g id="p6-2012-09"><circle class="n" cx="938" cy="780" r="15"/><text class="t" x="957" y="790">2012-09</text></g>
<g id="p6-2013-06"><circle class="n" cx="1114" cy="810" r="2.5"/><text class="t" x="1121" y="802">2013-06</text></g>
<g id="p6-seagrass"><circle class="sg" cx="916" cy="590" r="7"/><text class="t" x="880" y="577">seagrass</text></g>
<g id="p6-deep"><circle class="dp" cx="1018" cy="669" r="5"/><text class="t" x="991" y="657">deep</text></g>
<g id="p6-sand"><circle class="sd" cx="1044" cy="679" r="15"/><text class="t" x="1057" y="694">sand</text></g>
</svg>
